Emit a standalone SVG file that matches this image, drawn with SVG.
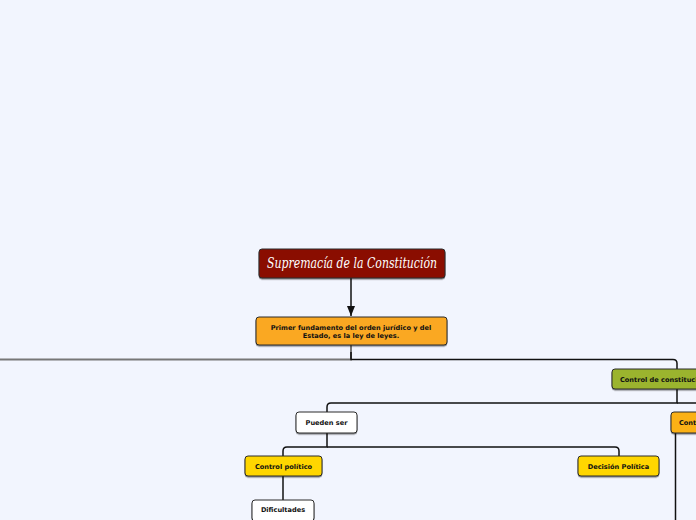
<svg xmlns="http://www.w3.org/2000/svg" width="696" height="520" viewBox="0 0 696 520">
<style>
.n{stroke:#2b2b2b;stroke-width:1}
.t{font-family:"DejaVu Sans",Verdana,sans-serif;font-weight:bold;font-size:6.6px;fill:#111;text-anchor:middle}
.c{fill:none;stroke:#111;stroke-width:1.5}
</style>
<defs>
<filter id="sh" x="-10%" y="-20%" width="120%" height="150%"><feDropShadow dx="0" dy="1.2" stdDeviation="0.6" flood-color="#000" flood-opacity="0.45"/></filter>
<marker id="ar" viewBox="0 0 10 10" refX="10" refY="5" markerWidth="7" markerHeight="7" orient="auto"><path d="M0,1 L10,5 L0,9 z" fill="#111"/></marker>
</defs>
<rect width="696" height="520" fill="#F2F5FE"/>
<g id="connectors">
<path class="c" d="M351,278 V316" marker-end="url(#ar)"/>
<path d="M351,345 V359.5 H0" fill="none" stroke="#777" stroke-width="2"/>
<path class="c" d="M351,352 V359.5 H673 Q677,359.5 677,363.5 V369"/>
<path class="c" d="M677,389 V403 H331 Q327,403 327,407 V412"/>
<path class="c" d="M677,403 H696"/>
<path class="c" d="M327,433 V447 H287 Q283,447 283,451 V456"/>
<path class="c" d="M327,447 H615 Q619,447 619,451 V456"/>
<path class="c" d="M283,476 V500"/>
<path class="c" d="M675.5,433 V520"/>
</g>
<g id="title">
<rect class="n" x="259" y="249" width="186" height="29" rx="3" fill="#8A0C03" filter="url(#sh)"/>
<text x="352" y="268" font-family="'DejaVu Serif',serif" font-style="italic" font-size="14" fill="#fff" text-anchor="middle" textLength="170" lengthAdjust="spacingAndGlyphs">Supremacía de la Constitución</text>
</g>
<g id="primer">
<rect class="n" x="256" y="317" width="191" height="28" rx="3" fill="#FAA823" filter="url(#sh)"/>
<text class="t" x="351" y="329.5">Primer fundamento del orden jurídico y del</text>
<text class="t" x="351" y="338">Estado, es la ley de leyes.</text>
</g>
<g id="control-constitucionalidad">
<rect class="n" x="612" y="369" width="100" height="20" rx="3" fill="#9BB42F" filter="url(#sh)"/>
<text class="t" x="620" y="381.5" style="text-anchor:start">Control de constitucionalidad</text>
</g>
<g id="cont">
<rect class="n" x="671" y="412" width="60" height="21" rx="3" fill="#FBB117" filter="url(#sh)"/>
<text class="t" x="679" y="425" style="text-anchor:start">Control</text>
</g>
<g id="pueden-ser">
<rect class="n" x="296" y="412" width="61" height="21" rx="3" fill="#fff" filter="url(#sh)"/>
<text class="t" x="326.5" y="425">Pueden ser</text>
</g>
<g id="control-politico">
<rect class="n" x="245" y="456" width="77" height="20" rx="3" fill="#FFD600" filter="url(#sh)"/>
<text class="t" x="283.5" y="468.5">Control político</text>
</g>
<g id="decision-politica">
<rect class="n" x="578" y="456" width="81" height="20" rx="3" fill="#FFD600" filter="url(#sh)"/>
<text class="t" x="618.5" y="468.5">Decisión Política</text>
</g>
<g id="dificultades">
<rect class="n" x="252" y="500" width="62" height="21" rx="3" fill="#fff" filter="url(#sh)"/>
<text class="t" x="283" y="512">Dificultades</text>
</g>
</svg>
